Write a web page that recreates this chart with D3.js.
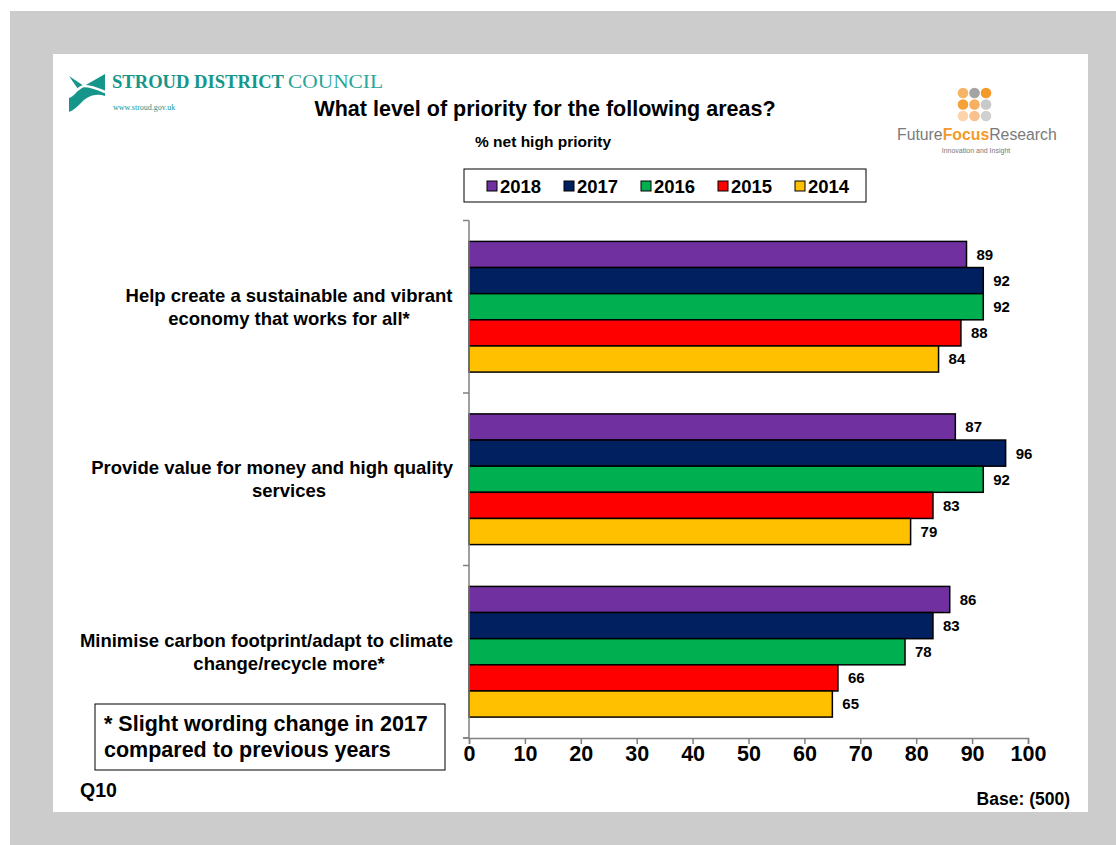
<!DOCTYPE html>
<html>
<head>
<meta charset="utf-8">
<script src="https://cdn.jsdelivr.net/npm/d3@7"></script>
<style>
  html, body { margin: 0; padding: 0; background: #fff; }
  svg { display: block; font-family: "Liberation Sans", Arial, sans-serif; }
</style>
</head>
<body>
<svg id="chart" width="1116" height="845"></svg>
<script>
// Survey data: % net high priority by area and year
const categories = [
  ["Help create a sustainable and vibrant", "economy that works for all*"],
  ["Provide value for money and high quality", "services"],
  ["Minimise carbon footprint/adapt to climate", "change/recycle more*"]
];
const years = ["2018", "2017", "2016", "2015", "2014"];
const yearColors = ["#7030A0", "#002060", "#00B050", "#FF0000", "#FFC000"];
const values2018 = [89, 87, 86];
const values2017 = [92, 96, 83];
const values2016 = [92, 92, 78];
const values2015 = [88, 83, 66];
const values2014 = [84, 79, 65];
const xTicks = [0, 10, 20, 30, 40, 50, 60, 70, 80, 90, 100];

const seriesValues = [values2018, values2017, values2016, values2015, values2014];

const svg = d3.select("#chart");

// Page background and slide panel
svg.append("rect").attr("x", 10).attr("y", 11).attr("width", 1106).attr("height", 834).attr("fill", "#cccccc");
svg.append("rect").attr("x", 53).attr("y", 54).attr("width", 1035).attr("height", 758).attr("fill", "#ffffff");

// Scales
const x = d3.scaleLinear().domain([0, 100]).range([469, 1028]);
const yCat = d3.scaleBand().domain(d3.range(categories.length)).range([220.5, 738]).padding(0);
const yYear = d3.scaleBand().domain(years).range([0, yCat.bandwidth()]).paddingInner(0).paddingOuter(0.8);

// Bars with value labels
const g = svg.append("g");
categories.forEach((cat, ci) => {
  const grp = g.append("g").attr("transform", `translate(0,${yCat(ci)})`);
  years.forEach((yr, si) => {
    const v = seriesValues[si][ci];
    grp.append("rect")
      .attr("x", x(0))
      .attr("y", yYear(yr))
      .attr("width", x(v) - x(0))
      .attr("height", yYear.bandwidth())
      .attr("fill", yearColors[si])
      .attr("stroke", "#000")
      .attr("stroke-width", 1.5);
    grp.append("text")
      .attr("x", x(v) + 10)
      .attr("y", yYear(yr) + yYear.bandwidth() / 2)
      .attr("dy", "0.36em")
      .attr("font-size", 15)
      .attr("font-weight", "bold")
      .attr("fill", "#000")
      .text(v);
  });
});

// Category axis (vertical line with boundary ticks)
const yAxisG = svg.append("g");
yAxisG.append("line").attr("x1", x(0)).attr("x2", x(0)).attr("y1", yCat.range()[0]).attr("y2", yCat.range()[1])
  .attr("stroke", "#808080").attr("stroke-width", 1.5);
const bounds = categories.map((c, i) => yCat(i)).concat([yCat.range()[1]]);
bounds.forEach(b => {
  yAxisG.append("line").attr("x1", x(0) - 6).attr("x2", x(0)).attr("y1", b).attr("y2", b)
    .attr("stroke", "#808080").attr("stroke-width", 1.5);
});

// Category labels: centred, kept clear of the axis
categories.forEach((lines, ci) => {
  const cy = yCat(ci) + yCat.bandwidth() / 2;
  lines.forEach((line, li) => {
    const t = svg.append("text")
      .attr("y", cy + (li - (lines.length - 1) / 2) * 23)
      .attr("dy", "0.36em")
      .attr("font-size", 18.5)
      .attr("font-weight", "bold")
      .attr("text-anchor", "middle")
      .attr("fill", "#000")
      .text(line);
    const w = t.node().getComputedTextLength();
    t.attr("x", Math.min(289, 453 - w / 2));
  });
});

// Value axis
const xAxis = d3.axisBottom(x).tickValues(xTicks).tickSize(6).tickFormat(d3.format("d"));
const xAxisG = svg.append("g").attr("transform", "translate(0,738)").call(xAxis);
xAxisG.select(".domain").attr("stroke", "#808080").attr("stroke-width", 1.5);
xAxisG.selectAll(".tick line").attr("stroke", "#808080").attr("stroke-width", 1.5);
xAxisG.selectAll(".tick text")
  .attr("font-family", "Liberation Sans, Arial, sans-serif")
  .attr("font-size", 21.5).attr("font-weight", "bold").attr("fill", "#000").attr("y", 7.5).attr("dy", "0.72em");
xAxisG.append("line").attr("x1", x(0) - 6).attr("x2", x(0)).attr("y1", 0).attr("y2", 0)
  .attr("stroke", "#808080").attr("stroke-width", 1.5);

// Titles
svg.append("text").attr("x", 545).attr("y", 116).attr("text-anchor", "middle")
  .attr("font-size", 21.5).attr("font-weight", "bold").attr("fill", "#000")
  .text("What level of priority for the following areas?");
svg.append("text").attr("x", 475).attr("y", 147)
  .attr("font-size", 15.5).attr("font-weight", "bold").attr("fill", "#000")
  .text("% net high priority");

// Legend
const legend = svg.append("g");
legend.append("rect").attr("x", 464).attr("y", 169).attr("width", 402).attr("height", 33)
  .attr("fill", "#fff").attr("stroke", "#000").attr("stroke-width", 1);
years.forEach((yr, i) => {
  const lx = 487 + i * 77;
  legend.append("rect").attr("x", lx).attr("y", 181).attr("width", 10).attr("height", 10)
    .attr("fill", yearColors[i]).attr("stroke", "#000").attr("stroke-width", 1);
  legend.append("text").attr("x", lx + 13).attr("y", 186).attr("dy", "0.36em")
    .attr("font-size", 18.5).attr("font-weight", "bold").attr("fill", "#000").text(yr);
});

// Footnote box
svg.append("rect").attr("x", 95).attr("y", 704).attr("width", 350).attr("height", 66)
  .attr("fill", "#fff").attr("stroke", "#000").attr("stroke-width", 1);
svg.append("text").attr("x", 104).attr("y", 731).attr("font-size", 21.5).attr("font-weight", "bold")
  .attr("fill", "#000").text("* Slight wording change in 2017");
svg.append("text").attr("x", 104).attr("y", 757).attr("font-size", 21.5).attr("font-weight", "bold")
  .attr("fill", "#000").text("compared to previous years");

svg.append("text").attr("x", 80).attr("y", 797).attr("font-size", 19.5).attr("font-weight", "bold")
  .attr("fill", "#000").text("Q10");
svg.append("text").attr("x", 1070).attr("y", 805).attr("text-anchor", "end").attr("font-size", 17.5)
  .attr("font-weight", "bold").attr("fill", "#000").text("Base: (500)");

// Stroud District Council logo
const teal = "#16968a";
const logo = svg.append("g");
logo.append("path")
  .attr("d", "M69,76 L84,86 L105,74 L105,96 C96,93 88,96 82,102 C78,106 74,110 69,112 L69,98 C74,96 77,92 78,89 Z")
  .attr("fill", teal);
logo.append("path")
  .attr("d", "M69,95 C77,92 80,86 84,86 C90,86 96,88 105,92")
  .attr("fill", "none").attr("stroke", "#fff").attr("stroke-width", 2.5);
logo.append("text").attr("x", 112).attr("y", 88).attr("font-family", "Liberation Serif, Times New Roman, serif")
  .attr("font-size", 18).attr("font-weight", "bold").attr("fill", teal)
  .attr("textLength", 172).attr("lengthAdjust", "spacingAndGlyphs").text("STROUD DISTRICT");
logo.append("text").attr("x", 288).attr("y", 88).attr("font-family", "Liberation Serif, Times New Roman, serif")
  .attr("font-size", 18).attr("fill", "#2aa597")
  .attr("textLength", 95).attr("lengthAdjust", "spacingAndGlyphs").text("COUNCIL");
logo.append("text").attr("x", 113).attr("y", 110).attr("font-family", "Liberation Serif, Times New Roman, serif")
  .attr("font-size", 8).attr("fill", teal).text("www.stroud.gov.uk");

// Future Focus Research logo
const dotColors = [
  ["#f6b468", "#a3a3a3", "#f39a2b"],
  ["#f5a13a", "#f7b060", "#c9c9c9"],
  ["#fbd3ad", "#f8c18e", "#d0d0d0"]
];
const ffr = svg.append("g");
dotColors.forEach((row, r) => row.forEach((c, k) => {
  ffr.append("circle").attr("cx", 963 + k * 11.5).attr("cy", 93 + r * 11.5).attr("r", 5.3).attr("fill", c);
}));
const ffParts = [
  { t: "Future", c: "#7a7a7a", w: "normal" },
  { t: "Focus", c: "#f39a2b", w: "bold" },
  { t: "Research", c: "#7a7a7a", w: "normal" }
];
let fx = 897;
ffParts.forEach(p => {
  const t = ffr.append("text").attr("x", fx).attr("y", 140).attr("font-size", 15.8)
    .attr("font-family", "Liberation Sans, Arial, sans-serif")
    .attr("font-weight", p.w).attr("fill", p.c).text(p.t);
  fx += t.node().getComputedTextLength();
});
ffr.append("text").attr("x", 976).attr("y", 153).attr("text-anchor", "middle").attr("font-size", 7)
  .attr("font-family", "Liberation Sans, Arial, sans-serif").attr("fill", "#777").text("Innovation and Insight");
</script>
</body>
</html>
